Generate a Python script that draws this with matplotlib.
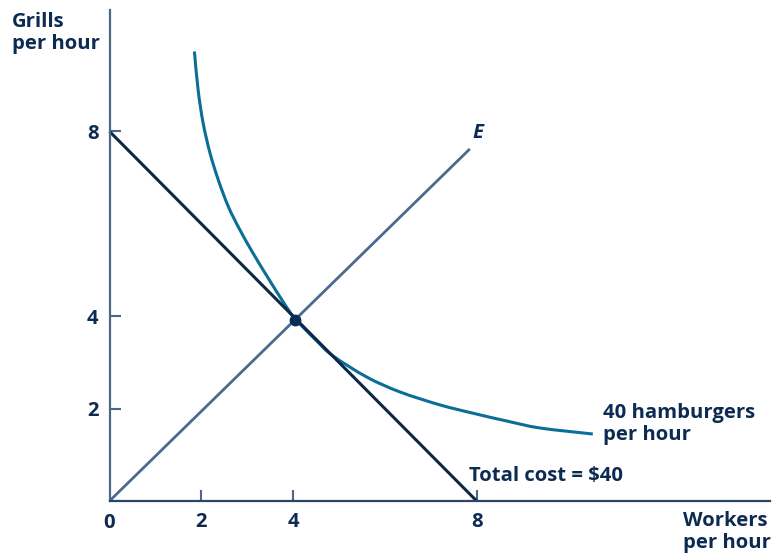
import matplotlib
matplotlib.use("Agg")
import matplotlib.pyplot as plt
from matplotlib.path import Path
from matplotlib.patches import PathPatch

# Data
x_ticks = [2, 4, 8]
y_ticks = [2, 4, 8]

iso_x = [1.85, 1.93, 2.04, 2.19, 2.37, 2.59, 2.84, 3.13, 3.46, 3.79, 4.04,
         4.51, 4.87, 5.61, 6.33, 7.20, 7.92, 8.66, 9.38, 10.53]
iso_y = [9.73, 8.90, 8.18, 7.53, 6.95, 6.37, 5.87, 5.36, 4.82, 4.30, 3.95,
         3.47, 3.14, 2.68, 2.36, 2.08, 1.90, 1.73, 1.58, 1.45]

cost_x = [0, 8]
cost_y = [8, 0]

e_x = [0, 7.85]
e_y = [0, 7.62]

opt_x = [4.04]
opt_y = [3.92]

TEXT = "#0d2b52"
AXIS = "#4d6785"
CURVE = "#0a6e96"
COST = "#0d2847"
ELINE = "#4a6a90"
FS = 14.6
LS = 1.12

plt.rcParams['font.family'] = ['Open Sans', 'DejaVu Sans']
WEIGHT = 'bold'

W, H = 772, 557
fig = plt.figure(figsize=(W / 100, H / 100), dpi=100)
x0, y0 = 109.5, 501
x1, ytop = 770, 10
ax = fig.add_axes([x0 / W, (H - y0) / H, (x1 - x0) / W, (y0 - ytop) / H])
sx, sy = 45.9, 46.2
ax.set_xlim(0, (x1 - x0) / sx)
ax.set_ylim(0, (y0 - ytop) / sy)

for s in ['top', 'right']:
    ax.spines[s].set_visible(False)
ax.spines['left'].set_color(AXIS)
ax.spines['left'].set_linewidth(1.6)
ax.spines['bottom'].set_color("#2b4568")
ax.spines['bottom'].set_linewidth(1.6)

ax.plot(cost_x, cost_y, color=COST, lw=2.2, solid_capstyle='butt', clip_on=False)
ax.plot(e_x, e_y, color=ELINE, lw=2.0, solid_capstyle='butt', clip_on=False)


def smooth_path(xs, ys):
    pts = list(zip(xs, ys))
    verts = [pts[0]]
    codes = [Path.MOVETO]
    n = len(pts)
    for i in range(n - 1):
        p0 = pts[i - 1] if i > 0 else pts[i]
        p1 = pts[i]
        p2 = pts[i + 1]
        p3 = pts[i + 2] if i + 2 < n else pts[i + 1]
        c1 = (p1[0] + (p2[0] - p0[0]) / 6, p1[1] + (p2[1] - p0[1]) / 6)
        c2 = (p2[0] - (p3[0] - p1[0]) / 6, p2[1] - (p3[1] - p1[1]) / 6)
        verts += [c1, c2, p2]
        codes += [Path.CURVE4] * 3
    return Path(verts, codes)


ax.add_patch(PathPatch(smooth_path(iso_x, iso_y), facecolor='none', edgecolor=CURVE,
                       lw=2.2, clip_on=False))
ax.plot(opt_x, opt_y, 'o', color="#0b2d55", ms=7.5, zorder=5)

ax.set_xticks(x_ticks)
ax.set_yticks(y_ticks)
ax.tick_params(axis='both', direction='in', length=8, width=1.5, color=AXIS,
               labelsize=FS, labelcolor=TEXT, pad=8)
ax.set_xticklabels([str(v) for v in x_ticks], fontweight=WEIGHT)
ax.set_yticklabels([str(v) for v in y_ticks], fontweight=WEIGHT)


def px(xp, yp):
    return ((xp - x0) / sx, (y0 - yp) / sy)


ax.text(*px(109.5, 523), "0", ha='center', va='center', fontsize=FS,
        fontweight=WEIGHT, color=TEXT, clip_on=False)

fig.text(12 / W, 1 - 12 / H, "Grills\nper hour", ha='left', va='top', fontsize=FS,
         fontweight=WEIGHT, color=TEXT, linespacing=LS)
fig.text(683 / W, 1 - 511 / H, "Workers\nper hour", ha='left', va='top', fontsize=FS,
         fontweight=WEIGHT, color=TEXT, linespacing=LS)

ax.text(*px(478, 133), "E", ha='center', va='center', fontsize=FS, fontweight=WEIGHT,
        fontstyle='italic', color=TEXT, clip_on=False)
ax.text(*px(603, 403), "40 hamburgers\nper hour", ha='left', va='top', fontsize=FS,
        fontweight=WEIGHT, color=TEXT, linespacing=LS, clip_on=False)
ax.text(*px(469, 476), "Total cost = $40", ha='left', va='center', fontsize=FS,
        fontweight=WEIGHT, color=TEXT, clip_on=False)

fig.savefig("out.png", dpi=100)
